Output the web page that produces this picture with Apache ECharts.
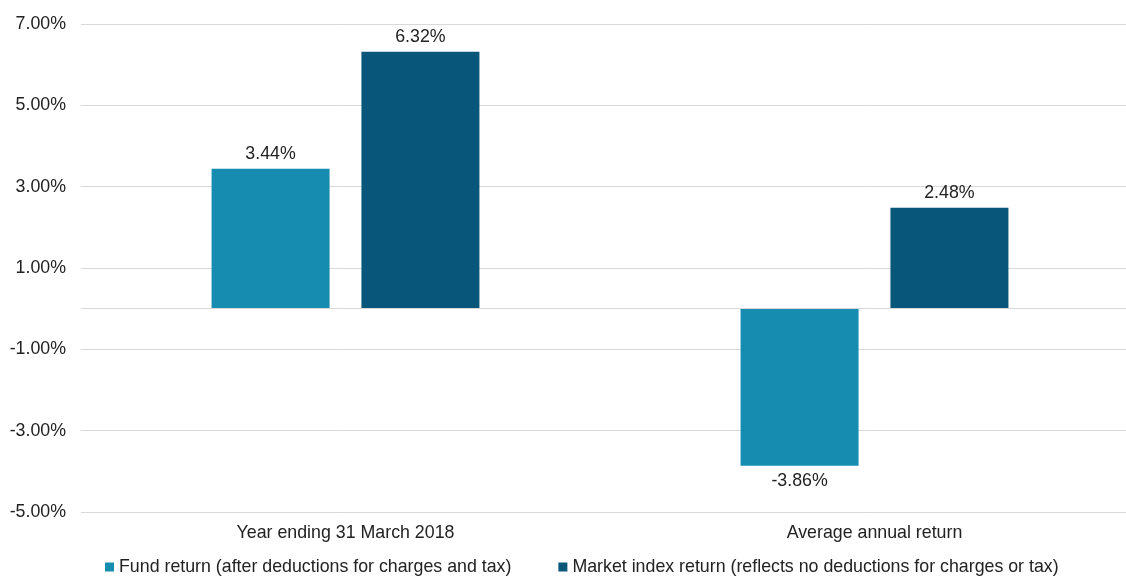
<!DOCTYPE html>
<html>
<head>
<meta charset="utf-8">
<script src="https://cdn.jsdelivr.net/npm/echarts@6/dist/echarts.min.js"></script>
<style>html,body{margin:0;padding:0;background:#fff;}#c{width:1126px;height:576px;}</style>
</head>
<body>
<div id="c"></div>
<script>
const categories = ['Year ending 31 March 2018', 'Average annual return'];
const fundValues = [3.44, -3.86];
const marketValues = [6.32, 2.48];
const seriesNames = ['Fund return (after deductions for charges and tax)', 'Market index return (reflects no deductions for charges or tax)'];
const colors = ['#168db0', '#08567a'];
const font = '"Liberation Sans", Arial, Helvetica, sans-serif';

function toItems(vals) {
  return vals.map(v => ({ value: v, label: { position: v < 0 ? 'bottom' : 'top' } }));
}
const fmt = p => p.value.toFixed(2) + '%';

const chart = echarts.init(document.getElementById('c'), null, { renderer: 'canvas' });
chart.setOption({
  animation: false,
  textStyle: { fontFamily: font },
  grid: { left: 81, top: 24, width: 1058, height: 488, outerBoundsMode: 'none', containLabel: false },
  legend: {
    bottom: -5, left: 100,
    itemWidth: 9, itemHeight: 9, itemGap: 47,
    icon: 'rect',
    textStyle: { fontSize: 17.8, color: '#222', fontFamily: font },
    data: seriesNames
  },
  xAxis: {
    type: 'category', data: categories,
    axisLine: { show: false, onZero: false },
    axisTick: { show: false },
    axisLabel: { fontSize: 17.8, color: '#222', margin: 12, fontFamily: font }
  },
  yAxis: {
    type: 'value', min: -5, max: 7, interval: 2,
    axisLabel: { formatter: v => v.toFixed(2) + '%', fontSize: 17.8, color: '#222', margin: 15, fontFamily: font },
    axisLine: { show: false }, axisTick: { show: false },
    splitLine: { lineStyle: { color: '#d9d9d9', width: 1 } }
  },
  series: [
    {
      name: seriesNames[0], type: 'bar', data: toItems(fundValues),
      barWidth: 118, barGap: '27%',
      itemStyle: { color: colors[0] },
      label: { show: true, formatter: fmt, fontSize: 17.8, color: '#222', distance: 6, fontFamily: font },
      markLine: {
        silent: true, symbol: 'none', label: { show: false },
        lineStyle: { color: '#d9d9d9', type: 'solid', width: 1 },
        data: [{ yAxis: 0 }]
      }
    },
    {
      name: seriesNames[1], type: 'bar', data: toItems(marketValues),
      barWidth: 118,
      itemStyle: { color: colors[1] },
      label: { show: true, formatter: fmt, fontSize: 17.8, color: '#222', distance: 6, fontFamily: font }
    }
  ]
});
</script>
</body>
</html>
